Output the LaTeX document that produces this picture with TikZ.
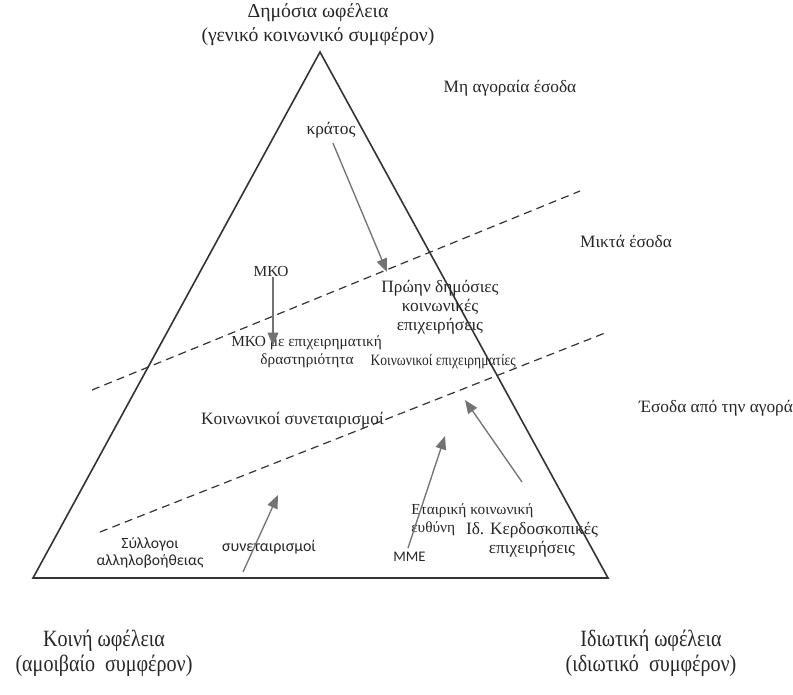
\documentclass[tikz,border=0pt]{standalone}
\usepackage{fontspec}
\setmainfont{Liberation Serif}
\newfontfamily\calfont{Carlito}
\newfontfamily\narrowfont{Liberation Serif}[FakeStretch=0.86]
\usetikzlibrary{arrows.meta}

\begin{document}
\begin{tikzpicture}[
  x=0.75pt, y=-0.75pt,
  every node/.append style={inner sep=0pt, align=center, text=black!85},
  txt/.style={font=\fontsize{13}{14.2}\selectfont},
  small/.style={font=\fontsize{11.5}{14}\selectfont},
  big/.style={font=\fontsize{14.8}{18}\selectfont},
  corner/.style={font=\narrowfont\fontsize{17.5}{19}\selectfont},
  sanstxt/.style={font=\calfont\fontsize{12}{12.5}\selectfont},
  flow/.style={draw=black!55, line width=1pt, -{Triangle[length=10pt,width=8pt]}},
  band/.style={draw=black!80, line width=0.9pt, dash pattern=on 6pt off 4pt}
  ]
  \useasboundingbox (0,0) rectangle (793,694);

  \coordinate (top) at (320,52);
  \coordinate (left) at (33,578);
  \coordinate (right) at (608,578);
  \draw [line width=1.2pt, black!80] (top) -- (left) -- (right) -- cycle;

  \draw [band] (92,390) -- (580,191);
  \draw [band] (100,532) -- (605,333);

  \node [big] (public) at (318,25) {Δημόσια ωφέλεια\\(γενικό κοινωνικό συμφέρον)};
  \node [corner] (mutual) at (104,653) {Κοινή ωφέλεια\\(αμοιβαίο~ συμφέρον)};
  \node [corner] (private) at (651,653) {Ιδιωτική ωφέλεια\\(ιδιωτικό~ συμφέρον)};

  \node [txt] (nonmarket) at (510,88) {Μη αγοραία έσοδα};
  \node [txt] (mixed) at (626,241) {Μικτά έσοδα};
  \node [txt] (market) at (716,408) {Έσοδα από την αγορά};

  \node [txt] (state) at (331,130) {κράτος};
  \node [small] (ngo) at (271,271) {ΜΚΟ};
  \node [txt] (exstate) at (440,307) {Πρώην δημόσιες\\κοινωνικές\\επιχειρήσεις};
  \node [small, anchor=north west, align=left] (ngobiz) at (231,335) {ΜΚΟ με επιχειρηματική\\\hspace*{1.9em}δραστηριότητα};
  \node [font=\narrowfont\fontsize{11.8}{12}\selectfont, anchor=east] (socent) at (516,362) {Κοινωνικοί επιχειρηματίες};
  \node [txt, anchor=east] (socoop) at (384,420) {Κοινωνικοί συνεταιρισμοί};
  \node [small, anchor=north west, align=left] (csr) at (411,503) {Εταιρική κοινωνική\\ευθύνη};
  \node [sanstxt, font=\calfont\fontsize{11}{12}\selectfont, anchor=west] (sme) at (393,557) {ΜΜΕ};
  \node [txt] (profit) at (532,540) {Ιδ. Κερδοσκοπικές\\επιχειρήσεις};
  \node [sanstxt, font=\calfont\fontsize{11.7}{12.5}\selectfont] (mutualaid) at (150,553) {Σύλλογοι\\αλληλοβοήθειας};
  \node [sanstxt] (coop) at (269,547) {συνεταιρισμοί};

  \coordinate (stateend) at (387,272);
  \coordinate (ngoend) at (273,346);
  \coordinate (coopstart) at (243,572);
  \coordinate (coopend) at (278,495);
  \coordinate (csrstart) at (408,548);
  \coordinate (csrend) at (445,436);
  \coordinate (profitstart) at (522,482);
  \coordinate (profitend) at (465,400);

  \draw [flow] (state.south) ++(2,5) -- (stateend);
  \draw [flow] (ngo.south) ++(2,1) -- (ngoend);
  \draw [flow] (coopstart) -- (coopend);
  \draw [flow] (csrstart) -- (csrend);
  \draw [flow] (profitstart) -- (profitend);
\end{tikzpicture}
\end{document}
